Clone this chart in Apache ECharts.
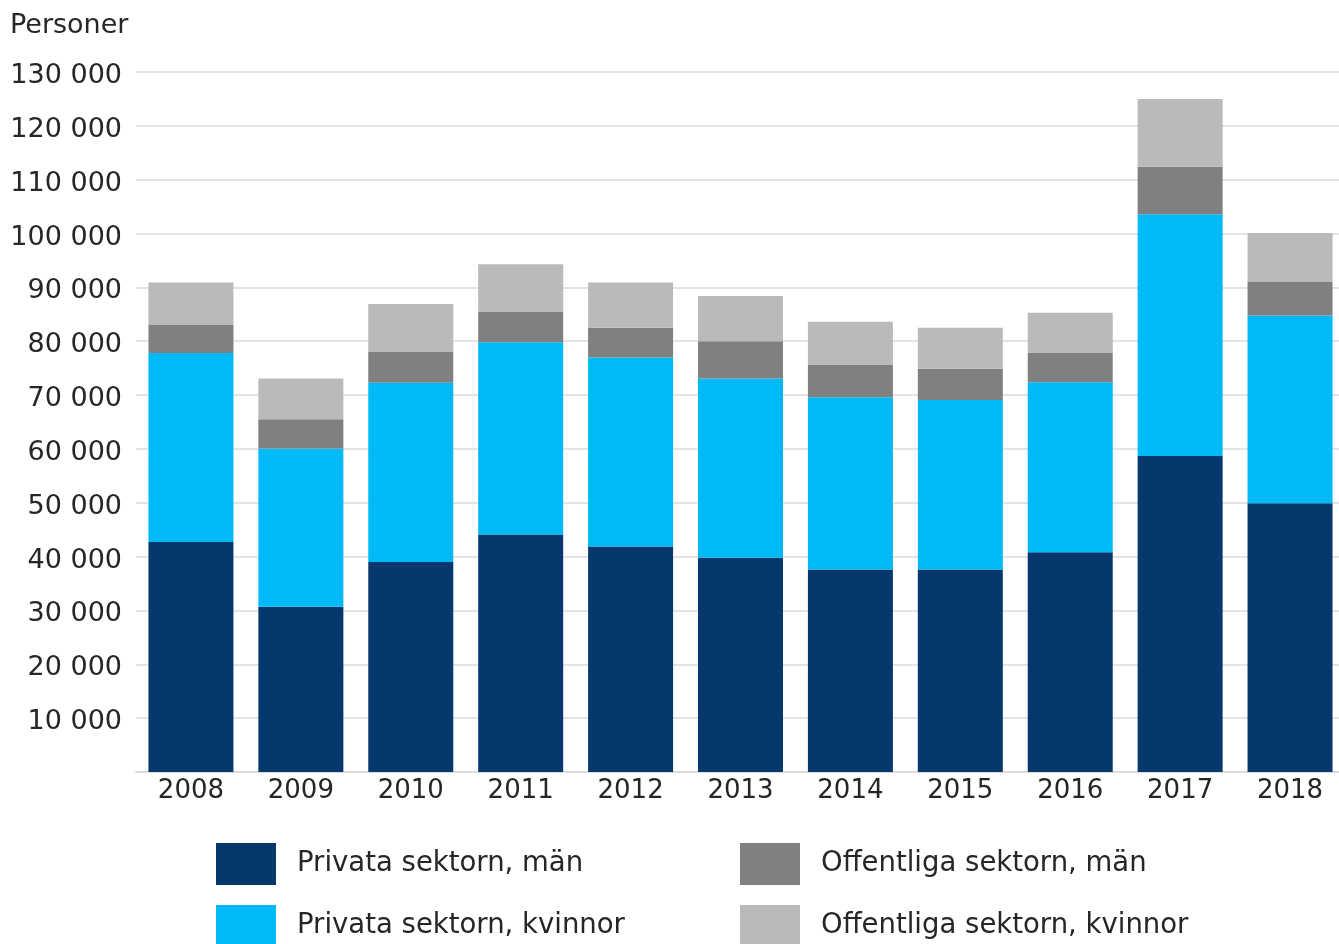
<!DOCTYPE html>
<html>
<head>
<meta charset="utf-8">
<script src="https://cdn.jsdelivr.net/npm/echarts@6/dist/echarts.min.js"></script>
<style>
  html, body { margin: 0; padding: 0; background: #fff; }
  #main { width: 1339px; height: 944px; }
</style>
</head>
<body>
<div id="main"></div>
<script>
var years = ['2008', '2009', '2010', '2011', '2012', '2013', '2014', '2015', '2016', '2017', '2018'];

// antal personer per sektor och kön
var privataMan = [42700, 30700, 39000, 44100, 41900, 39800, 37600, 37600, 40800, 58700, 49900];
var privataKvinnor = [35100, 29400, 33300, 35700, 35100, 33300, 32000, 31500, 31600, 44900, 34900];
var offentligaMan = [5200, 5400, 5700, 5700, 5500, 6900, 6100, 5800, 5400, 8800, 6200];
var offentligaKvinnor = [7900, 7600, 8900, 8800, 8400, 8400, 7900, 7600, 7500, 12600, 9100];

var seriesNames = ['Privata sektorn, män', 'Privata sektorn, kvinnor', 'Offentliga sektorn, män', 'Offentliga sektorn, kvinnor'];
var colors = ['#06386e', '#00b9f7', '#808080', '#bababa'];

var myChart = echarts.init(document.getElementById('main'));

var font = 'DejaVu Sans, Verdana, sans-serif';
var textColor = '#262626';

function bar(name, data, color) {
	return {
		name: name,
		type: 'bar',
		stack: 'total',
		barWidth: 85,
		data: data,
		itemStyle: { color: color },
		emphasis: { disabled: true }
	};
}

// en legend per post, så att kolumnerna hamnar rätt
function legendItem(name, left, top) {
	return {
		left: left,
		top: top,
		itemWidth: 60,
		itemHeight: 42,
		padding: 0,
		icon: 'rect',
		selectedMode: false,
		textStyle: { fontFamily: font, fontSize: 27.5, color: textColor, padding: [0, 0, 0, 16] },
		data: [name]
	};
}

myChart.setOption({
	animation: false,
	title: {
		text: 'Personer',
		left: 10,
		top: 12,
		padding: 0,
		textStyle: { fontFamily: font, fontSize: 27, fontWeight: 'normal', color: textColor }
	},
	grid: {
		left: 136,
		top: 72,
		width: 1209,
		bottom: 172,
		outerBoundsMode: 'none'
	},
	legend: [
		legendItem(seriesNames[0], 216, 843),
		legendItem(seriesNames[2], 740, 843),
		legendItem(seriesNames[1], 216, 905),
		legendItem(seriesNames[3], 740, 905)
	],
	xAxis: {
		type: 'category',
		data: years,
		axisLine: { lineStyle: { color: '#dcdcdc', width: 2 } },
		axisTick: { show: false },
		axisLabel: { fontFamily: font, fontSize: 26, color: textColor, margin: 6 }
	},
	yAxis: {
		type: 'value',
		min: 0,
		max: 130000,
		interval: 10000,
		axisLine: { show: false },
		axisTick: { show: false },
		splitLine: { lineStyle: { color: '#e4e4e4', width: 2 } },
		axisLabel: {
			fontFamily: font,
			fontSize: 27,
			color: textColor,
			margin: 14,
			formatter: function (v) {
				if (v === 0) return '';
				return '{v|' + String(v).replace(/\B(?=(\d{3})+(?!\d))/g, ' ') + '}';
			},
			rich: {
				v: { fontFamily: font, fontSize: 27, color: textColor, padding: [8, 0, 0, 0] }
			}
		}
	},
	series: [
		bar(seriesNames[0], privataMan, colors[0]),
		bar(seriesNames[1], privataKvinnor, colors[1]),
		bar(seriesNames[2], offentligaMan, colors[2]),
		bar(seriesNames[3], offentligaKvinnor, colors[3])
	]
});
</script>
</body>
</html>
